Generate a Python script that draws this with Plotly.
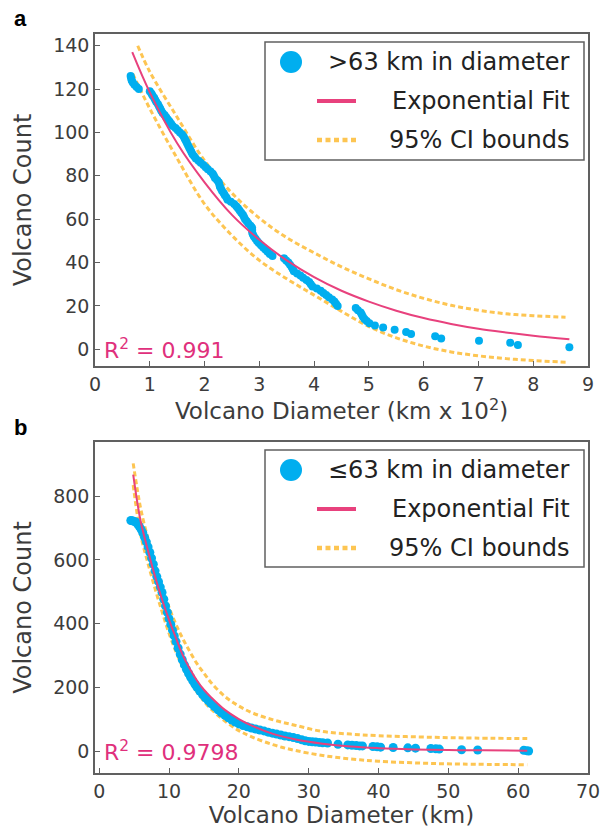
import plotly.graph_objects as go

# ---------------- Panel a data (>63 km) ----------------
a_count = list(range(126, 0, -1))
a_diam = [0.65, 0.66, 0.67, 0.69, 0.72, 0.76, 0.80,
          1.00, 1.03, 1.05, 1.08, 1.10, 1.12, 1.15, 1.17, 1.19, 1.21, 1.235, 1.27, 1.30, 1.33,
          1.36, 1.39, 1.42, 1.47, 1.51, 1.55, 1.59, 1.62, 1.64, 1.66, 1.68, 1.70, 1.72, 1.74,
          1.76, 1.78, 1.81, 1.84, 1.89, 1.93, 1.98, 2.02, 2.06, 2.11, 2.15, 2.17, 2.19, 2.23,
          2.26, 2.27, 2.28, 2.30, 2.32, 2.35, 2.37, 2.40, 2.42, 2.48, 2.54, 2.58, 2.61, 2.64,
          2.67, 2.70, 2.72, 2.74, 2.77, 2.80, 2.84, 2.87, 2.87, 2.87, 2.88, 2.90, 2.93, 2.96,
          2.99, 3.03, 3.07, 3.11, 3.15, 3.19, 3.24, 3.45, 3.49, 3.53, 3.56, 3.59, 3.61, 3.63,
          3.69, 3.75, 3.80, 3.86, 3.91, 3.94, 3.97, 4.05, 4.12, 4.17, 4.22, 4.27, 4.33, 4.37,
          4.40, 4.43, 4.76, 4.80, 4.85, 4.87, 4.89, 4.92, 4.96, 5.01, 5.11, 5.26, 5.47, 5.68,
          5.77, 6.21, 6.32, 7.01, 7.58, 7.72, 8.66]

a_fit_x = [0.68, 1.0, 1.5, 2.0, 2.5, 3.0, 3.5, 4.0, 4.5, 5.0, 5.5, 6.0, 6.5, 7.0, 7.5, 8.0, 8.66]
a_fit_y = [137, 118.5, 95, 77, 62, 50.5, 41, 33.3, 27, 22, 17.8, 14.4, 11.7, 9.5, 7.8, 6.3, 4.6]

a_up_x = [0.78, 1.0, 1.5, 2.0, 2.5, 3.0, 3.5, 4.0, 4.5, 5.0, 5.5, 6.0, 6.5, 7.0, 7.5, 8.0, 8.59]
a_up_y = [140, 128, 107, 87, 72, 60.5, 51.5, 44.5, 38, 32.5, 27.5, 23.5, 20.3, 18, 16.4, 15.5, 14.8]

a_lo_x = [0.69, 1.0, 1.5, 2.0, 2.5, 3.0, 3.5, 4.0, 4.5, 5.0, 5.5, 6.0, 6.5, 7.0, 7.5, 8.0, 8.64]
a_lo_y = [127, 111, 88, 67, 52.5, 41, 32.5, 25, 17.5, 10.5, 5.3, 1.5, -1.2, -3.0, -4.3, -5.2, -6.0]

# ---------------- Panel b data (<=63 km) ----------------
b_diam = [4.53, 4.75, 5.0, 5.25, 5.5, 5.75, 6.0, 6.25, 6.5, 6.75, 7.0, 7.25, 7.5, 7.75, 8.0,
          8.25, 8.5, 8.75, 9.0, 9.25, 9.5, 9.75, 10.0, 10.25, 10.5, 10.75, 11.0, 11.3, 11.6,
          11.9, 12.2, 12.5, 12.8, 13.1, 13.4, 13.7, 14.0, 14.4, 14.8, 15.2, 15.6, 16.0, 16.5,
          17.0, 17.5, 18.0, 18.5, 19.0, 19.5, 20.0, 20.6, 21.2, 21.8, 22.4, 23.0, 23.6, 24.2,
          24.8, 25.4, 26.0, 26.6, 27.2, 27.8, 28.4, 29.0, 29.5, 30.0, 30.5, 31.0, 31.5, 32.0,
          32.7, 34.2, 35.6, 36.2, 36.8, 37.3, 37.7, 39.2, 39.8, 40.3, 42.1, 44.2, 45.3, 47.5,
          48.2, 48.7, 51.9, 54.2, 60.8, 61.2, 61.5]
b_count = [724, 723, 721, 719, 713, 705, 696, 685, 671, 657, 641, 624, 606, 587, 566,
           548, 532, 515, 498, 477, 456, 436, 416, 398, 380, 362, 344, 324, 305,
           287, 271, 257, 244, 232, 221, 211, 201, 189, 178, 168, 159, 150, 140,
           130, 121, 113, 105, 98, 92, 86, 81, 77, 73, 70, 67, 64, 60,
           57, 54, 51, 48, 46, 43, 40, 36, 33, 31, 30, 29, 28, 27,
           26, 22, 20, 19, 18, 17, 17, 15, 14, 13, 12, 11, 10, 9,
           8, 7, 5, 4, 3, 2, 1]

b_fit_x = [4.87, 5.5, 6, 7, 8, 9, 10, 11, 12, 13, 14, 15, 16, 18, 20, 22, 25, 28, 32, 36, 40, 45, 50, 55, 61.3]
b_fit_y = [868, 775, 715, 628, 548, 476, 412, 355, 300, 258, 222, 193, 170, 130, 101, 79, 54, 38, 24, 15, 10, 6, 4, 3, 2]

b_up_x = [4.87, 5.5, 6, 7, 8, 9, 10, 11, 12, 13, 14, 15, 16, 18, 20, 22, 25, 28, 32, 36, 40, 46, 52, 61.3]
b_up_y = [903, 815, 755, 665, 585, 515, 452, 398, 352, 312, 275, 245, 216, 172, 142, 120, 98, 82, 62, 54, 49, 45, 42, 40]

b_lo_x = [4.87, 5.5, 6, 7, 8, 9, 10, 11, 12, 13, 14, 15, 16, 18, 20, 22, 25, 28, 32, 36, 40, 46, 52, 61.3]
b_lo_y = [835, 735, 672, 588, 510, 438, 370, 312, 262, 220, 186, 157, 133, 95, 65, 44, 20, 3, -13, -24, -31, -37, -40, -42]

# ---------------- Text ----------------
legend_a = [">63 km in diameter", "Exponential Fit", "95% CI bounds"]
legend_b = ["\u226463 km in diameter", "Exponential Fit", "95% CI bounds"]
r2_a = "R<sup>2</sup> = 0.991"
r2_b = "R<sup>2</sup> = 0.9798"
xtitle_a = "Volcano Diameter (km x 10<sup>2</sup>)"
xtitle_b = "Volcano Diameter (km)"
ytitle = "Volcano Count"

BLUE = "#00AEEF"
PINK = "#E8417D"
ORANGE = "#FDC552"
R2COL = "#E0307C"
FRAME = "#606060"
TXT = "#3c3c3c"
FONT = "DejaVu Sans"
DOT = "5px,3px"

W, H = 613, 832
px0, px1 = 95, 588
a_top, a_bot = 34, 366
b_top, b_bot = 442, 773

fig = go.Figure()

def add_panel(xs, ys, fx, fy, ux, uy, lx, ly, xa, ya, msize):
    fig.add_trace(go.Scatter(x=ux, y=uy, mode="lines", line=dict(color=ORANGE, width=3, dash=DOT, shape="spline"),
                             xaxis=xa, yaxis=ya, showlegend=False))
    fig.add_trace(go.Scatter(x=lx, y=ly, mode="lines", line=dict(color=ORANGE, width=3, dash=DOT, shape="spline"),
                             xaxis=xa, yaxis=ya, showlegend=False))
    fig.add_trace(go.Scatter(x=xs, y=ys, mode="markers", marker=dict(color=BLUE, size=msize, line=dict(width=0)),
                             xaxis=xa, yaxis=ya, showlegend=False))
    fig.add_trace(go.Scatter(x=fx, y=fy, mode="lines", line=dict(color=PINK, width=2, shape="spline"),
                             xaxis=xa, yaxis=ya, showlegend=False))

add_panel(a_diam, a_count, a_fit_x, a_fit_y, a_up_x, a_up_y, a_lo_x, a_lo_y, "x", "y", 8)
add_panel(b_diam, b_count, b_fit_x, b_fit_y, b_up_x, b_up_y, b_lo_x, b_lo_y, "x2", "y2", 9)

axis_common = dict(showline=True, mirror=True, linecolor=FRAME, linewidth=1.5, showgrid=False, zeroline=False,
                   ticks="inside", ticklen=5, tickcolor=FRAME, tickwidth=1,
                   tickfont=dict(family=FONT, size=19, color=TXT), automargin=False)

xd = [px0 / W, px1 / W]
fig.update_layout(
    width=W, height=H, margin=dict(l=0, r=0, t=0, b=0),
    paper_bgcolor="white", plot_bgcolor="white", showlegend=False,
    xaxis=dict(domain=xd, anchor="y", range=[0, 9], dtick=1, tick0=0,
               title=dict(text=xtitle_a, font=dict(family=FONT, size=23, color=TXT), standoff=4), **axis_common),
    yaxis=dict(domain=[1 - a_bot / H, 1 - a_top / H], anchor="x", range=[-7.7, 145.4], dtick=20, tick0=0,
               title=dict(text=ytitle, font=dict(family=FONT, size=24, color=TXT), standoff=15), **axis_common),
    xaxis2=dict(domain=xd, anchor="y2", range=[-0.6, 70.0], dtick=10, tick0=0,
                title=dict(text=xtitle_b, font=dict(family=FONT, size=23, color=TXT), standoff=4), **axis_common),
    yaxis2=dict(domain=[1 - b_bot / H, 1 - b_top / H], anchor="x2", range=[-68, 970], dtick=200, tick0=0,
                title=dict(text=ytitle, font=dict(family=FONT, size=24, color=TXT), standoff=15), **axis_common),
)

shapes = []
annotations = []

def legend(xr, yr, labels, top, bot, box_t, box_b):
    ph = bot - top
    def dx(p):
        return (p - px0) / (px1 - px0)
    def dy(p):
        return (bot - p) / ph
    shapes.append(dict(type="rect", xref=xr, yref=yr, x0=dx(265), x1=dx(584), y0=dy(box_b), y1=dy(box_t),
                       line=dict(color=FRAME, width=1.5), fillcolor="white", layer="above"))
    ys = [box_t + 20, box_t + 59, box_t + 98]
    r = 11
    shapes.append(dict(type="circle", xref=xr, yref=yr, x0=dx(291 - r), x1=dx(291 + r),
                       y0=dy(ys[0] + r), y1=dy(ys[0] - r), fillcolor=BLUE, line=dict(width=0), layer="above"))
    shapes.append(dict(type="line", xref=xr, yref=yr, x0=dx(317), x1=dx(356), y0=dy(ys[1]), y1=dy(ys[1]),
                       line=dict(color=PINK, width=4), layer="above"))
    shapes.append(dict(type="line", xref=xr, yref=yr, x0=dx(317), x1=dx(356), y0=dy(ys[2]), y1=dy(ys[2]),
                       line=dict(color=ORANGE, width=4.5, dash="5px,3.5px"), layer="above"))
    for lab, yy in zip(labels, ys):
        annotations.append(dict(text=lab, xref=xr, yref=yr, x=dx(572), y=dy(yy), xanchor="right", yanchor="middle",
                                showarrow=False, font=dict(family=FONT, size=24, color="#222222")))

legend("x domain", "y domain", legend_a, a_top, a_bot, 42, 160)
legend("x2 domain", "y2 domain", legend_b, b_top, b_bot, 450, 567)

annotations.append(dict(text=r2_a, xref="x domain", yref="y", x=0.014, y=0, xanchor="left", yanchor="middle",
                        showarrow=False, font=dict(family=FONT, size=22, color=R2COL)))
annotations.append(dict(text=r2_b, xref="x2 domain", yref="y2", x=0.014, y=0, xanchor="left", yanchor="middle",
                        showarrow=False, font=dict(family=FONT, size=22, color=R2COL)))

annotations.append(dict(text="<b>a</b>", xref="paper", yref="paper", x=20 / W, y=1 - 18 / H, xanchor="center",
                        yanchor="middle", showarrow=False, font=dict(family="Liberation Sans", size=22, color="black")))
annotations.append(dict(text="<b>b</b>", xref="paper", yref="paper", x=20 / W, y=1 - 428 / H, xanchor="center",
                        yanchor="middle", showarrow=False, font=dict(family="Liberation Sans", size=22, color="black")))

fig.update_layout(shapes=shapes, annotations=annotations)
fig.write_html("out.html", config={"displayModeBar": False},
               post_script="document.body.style.margin='0';document.body.style.overflow='hidden';")
